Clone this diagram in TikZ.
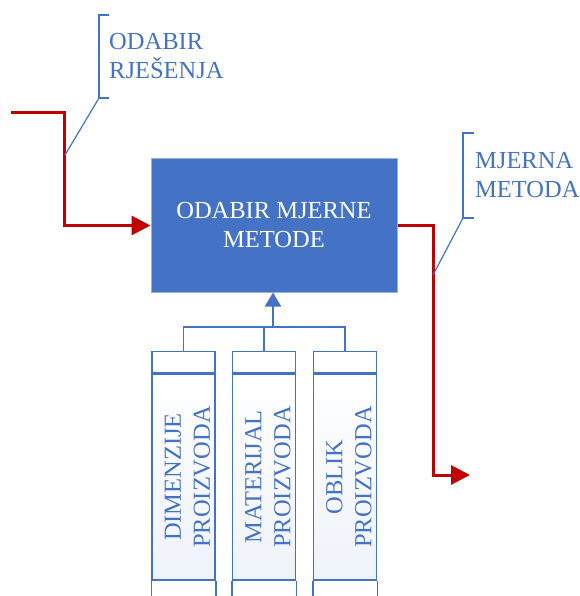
\documentclass[tikz,border=0pt]{standalone}
\usepackage{fontspec}
\setmainfont{Liberation Serif}
\usetikzlibrary{arrows.meta,positioning}
\definecolor{boxblue}{HTML}{4472C4}
\definecolor{flowred}{HTML}{C00000}
\begin{document}
\begin{tikzpicture}[
        x=1pt, y=-1pt,
        every node/.style={font=\fontsize{24.5}{29}\selectfont, inner sep=0pt},
        mainbox/.style={fill=boxblue, draw=boxblue!55, line width=1pt, minimum width=246pt, minimum height=133pt, text=white, align=center},
        colbody/.style={draw=boxblue, line width=1.5pt, top color=white, bottom color=boxblue!9, minimum width=63pt, minimum height=206pt},
        colcap/.style={draw=boxblue, line width=1.5pt, fill=white, minimum width=63pt, minimum height=21pt},
        coltext/.style={rotate=90, text=boxblue, align=center},
        flow/.style={draw=flowred, line width=3pt, -{Triangle[length=19pt,width=19pt]}},
        link/.style={draw=boxblue, line width=1.8pt},
        callout/.style={draw=boxblue, line width=1.2pt},
        note/.style={text=boxblue, align=left, anchor=west}
    ]
      \useasboundingbox (0,0) rectangle (579,596);

      % Main block
      \node[mainbox] (box) at (274,225.5) {ODABIR MJERNE\\METODE};

      % Input and output
      \coordinate (in) at (11,113);
      \coordinate (out) at (470,475);
      \draw[flow] (in) -- ++(53,0) |- (box.west);
      \draw[flow] (box.east) -- ++(36,0) |- (out);

      % Callouts
      \node[note] (sol) at (109,56.5) {ODABIR\\RJEŠENJA};
      \draw[callout] (109,15) -- (99,15) -- (99,98) -- (109,98);
      \draw[callout] (99,98) -- (65,155);
      \node[note] (meth) at (475,175.5) {MJERNA\\METODA};
      \draw[callout] (474,133) -- (463,133) -- (463,218) -- (474,218);
      \draw[callout] (463,218) -- (433,275);

      % Columns
      \foreach \i/\x/\txt in {1/183.5/DIMENZIJE, 2/264/MATERIJAL, 3/345/OBLIK} {
        \node[colbody] (body\i) at (\x,477) {};
        \node[colcap, above=0pt of body\i] (cap\i) {};
        \draw[boxblue, line width=1.5pt] (body\i.south west) -- ++(0,20);
        \draw[boxblue, line width=1.5pt] (body\i.south east) -- ++(0,20);
        \node[coltext] at ([xshift=4pt]body\i.center) {\txt\\PROIZVODA};
      }

      % Feed into main block
      \coordinate (joint) at (273,327);
      \draw[link] (cap1.north) |- (cap3.north |- joint) -- (cap3.north);
      \draw[link] (cap2.north) -- (cap2.north |- joint);
      \draw[link, -{Triangle[length=14pt,width=16pt]}] (joint) -- (box.south -| joint);
\end{tikzpicture}
\end{document}
